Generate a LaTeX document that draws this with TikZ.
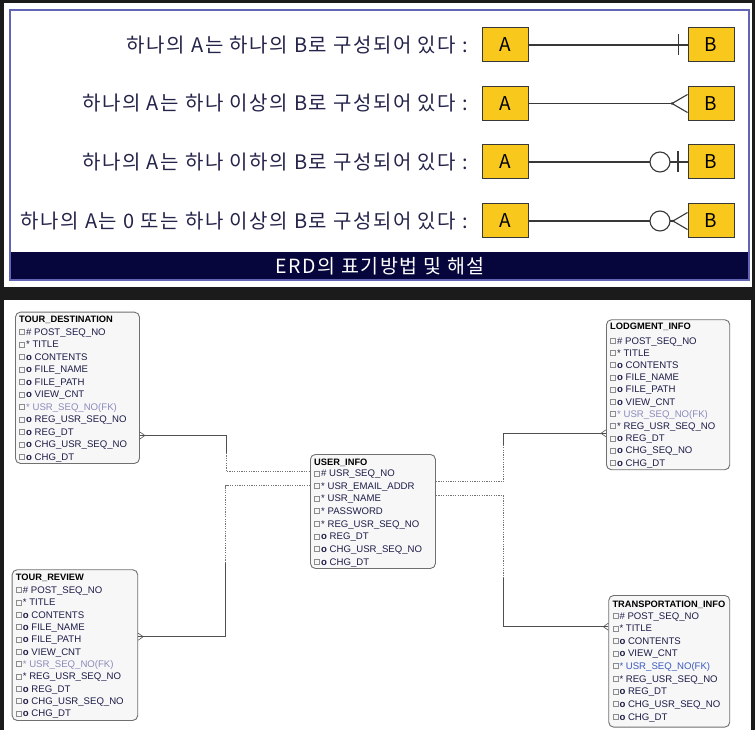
\documentclass[tikz,border=0pt]{standalone}
\usepackage{fontspec}
\setmainfont{Liberation Sans}
\newfontfamily\kr{Noto Sans CJK KR}
\newfontfamily\krwide[LetterSpace=8]{Noto Sans CJK KR}
\usetikzlibrary{calc}
\definecolor{bgdark}{HTML}{1B1B1B}
\definecolor{frameblue}{HTML}{6464B4}
\definecolor{navybar}{HTML}{06063C}
\definecolor{krtext}{HTML}{24244A}
\definecolor{goldbox}{HTML}{F8C81C}
\definecolor{symline}{HTML}{383838}
\definecolor{entborder}{HTML}{707070}
\definecolor{entfill}{HTML}{F7F7F7}
\definecolor{rowtext}{HTML}{1C1C48}
\definecolor{fkpale}{HTML}{8A8ABC}
\definecolor{fkblue}{HTML}{3A5AC0}
\definecolor{chkgray}{HTML}{8C8C8C}
\definecolor{conline}{HTML}{505050}
\tikzset{
  abbox/.style={draw=symline, fill=goldbox, line width=1pt, minimum width=46pt, minimum height=34pt, inner sep=0pt, font=\kr\fontsize{19}{19}\selectfont, text=black},
  krlabel/.style={anchor=east, inner sep=0pt, text=krtext, font=\krwide\fontsize{20}{20}\selectfont},
  symbol/.style={symline, line width=1.1pt},
  entity/.style={draw=entborder, fill=entfill, line width=0.9pt, rounded corners=5pt, anchor=north west, inner sep=0pt},
  enttitle/.style={anchor=base west, inner sep=0pt, text=black, font=\bfseries\fontsize{9.3}{10}\selectfont},
  rowtxt/.style={anchor=base west, inner sep=0pt, text=rowtext, font=\fontsize{9.6}{10}\selectfont},
  chk/.style={draw=chkgray, line width=0.5pt, minimum size=5pt, inner sep=0pt},
  solidcon/.style={conline, line width=0.9pt},
  dotcon/.style={conline!80, line width=0.8pt, dash pattern=on 1.2pt off 1.2pt},
  footcon/.style={conline, line width=0.6pt}
}
\newcommand\entrows[5]{%
  \foreach \t [count=\i] in {#5} {
    \pgfmathsetmacro\yy{#3+(\i-1)*#4}
    \node[chk] (#1-c\i) at (#2+7,\yy) {};
    \node[rowtxt] (#1-r\i) at (#2+11,\yy+3.4) {\t};
  }}
\begin{document}
\begin{tikzpicture}[x=1pt,y=-1pt]
\fill[bgdark] (0,0) rectangle (755,730);
\useasboundingbox (0,0) rectangle (755,730);
% ---------- top panel ----------
\fill[white] (4,3) rectangle (752,287);
\fill[navybar] (10,252) rectangle (749,280);
\draw[frameblue, line width=1.3pt] (10,10) rectangle (749,280);
\node[text=white, inner sep=0pt, font=\krwide\fontsize{19.5}{19.5}\selectfont] (title) at (380,266) {ERD의 표기방법 및 해설};

\node[krlabel] (t1) at (468,45) {하나의 A는 하나의 B로 구성되어 있다 :};
\node[krlabel] (t2) at (468,103.5) {하나의 A는 하나 이상의 B로 구성되어 있다 :};
\node[krlabel] (t3) at (468,162) {하나의 A는 하나 이하의 B로 구성되어 있다 :};
\node[krlabel] (t4) at (468,221) {하나의 A는 0 또는 하나 이상의 B로 구성되어 있다 :};

\foreach \i/\y in {1/45,2/103.5,3/162,4/221} {
  \node[abbox] (a\i) at (505,\y) {A};
  \node[abbox] (b\i) at (711,\y) {B};
}
% row 1: exactly one
\draw[symbol] (a1.east) -- (b1.west);
\draw[symbol] ($(b1.west)+(-9,-10.5)$) -- ($(b1.west)+(-9,10.5)$);
% row 2: one or more
\draw[symbol] (a2.east) -- ($(b2.west)+(-15.5,0)$);
\draw[symbol] ($(b2.west)+(0,-9)$) -- ($(b2.west)+(-15.5,0)$) -- ($(b2.west)+(0,9)$);
\fill[symline] ($(b2.west)+(-15.5,0)$) circle (1.3pt);
% row 3: zero or one
\draw[symbol] (a3.east) -- ($(b3.west)+(-37.5,0)$);
\draw[symbol] ($(b3.west)+(-27.5,0)$) circle (10pt);
\draw[symbol] ($(b3.west)+(-17.5,0)$) -- (b3.west);
\draw[symbol] ($(b3.west)+(-9.5,-10.5)$) -- ($(b3.west)+(-9.5,10.5)$);
% row 4: zero or more
\draw[symbol] (a4.east) -- ($(b4.west)+(-37.5,0)$);
\draw[symbol] ($(b4.west)+(-27.5,0)$) circle (10pt);
\draw[symbol] ($(b4.west)+(-17.5,0)$) -- ($(b4.west)+(-14.5,0)$);
\draw[symbol] ($(b4.west)+(0,-8.5)$) -- ($(b4.west)+(-14.5,0)$) -- ($(b4.west)+(0,8.5)$);
\fill[symline] ($(b4.west)+(-14.5,0)$) circle (1.3pt);

% ---------- bottom panel ----------
\fill[white] (4,300) rectangle (751,730);

% TOUR_DESTINATION
\node[entity, minimum width=124pt, minimum height=151.3pt] (td) at (15,311.7) {};
\node[enttitle] (td-t) at (19,322.4) {TOUR\_DESTINATION};
\entrows{td}{15}{332}{12.5}{\# POST\_SEQ\_NO, * TITLE, \textbf{o} CONTENTS, \textbf{o} FILE\_NAME, \textbf{o} FILE\_PATH, \textbf{o} VIEW\_CNT, {\color{fkpale}* USR\_SEQ\_NO(FK)}, \textbf{o} REG\_USR\_SEQ\_NO, \textbf{o} REG\_DT, \textbf{o} CHG\_USR\_SEQ\_NO, \textbf{o} CHG\_DT}

% USER_INFO
\node[entity, minimum width=125pt, minimum height=114pt] (ui) at (310,454) {};
\node[enttitle] (ui-t) at (314,465.1) {USER\_INFO};
\entrows{ui}{310}{473.3}{12.63}{\# USR\_SEQ\_NO, * USR\_EMAIL\_ADDR, * USR\_NAME, * PASSWORD, * REG\_USR\_SEQ\_NO, \textbf{o} REG\_DT, \textbf{o} CHG\_USR\_SEQ\_NO, \textbf{o} CHG\_DT}

% LODGMENT_INFO
\node[entity, minimum width=123.3pt, minimum height=150pt] (li) at (606,319.3) {};
\node[enttitle] (li-t) at (610,329.4) {LODGMENT\_INFO};
\entrows{li}{606}{340.7}{12.2}{\# POST\_SEQ\_NO, * TITLE, \textbf{o} CONTENTS, \textbf{o} FILE\_NAME, \textbf{o} FILE\_PATH, \textbf{o} VIEW\_CNT, {\color{fkpale}* USR\_SEQ\_NO(FK)}, * REG\_USR\_SEQ\_NO, \textbf{o} REG\_DT, \textbf{o} CHG\_SEQ\_NO, \textbf{o} CHG\_DT}

% TOUR_REVIEW
\node[entity, minimum width=125.6pt, minimum height=150.7pt] (tr) at (11.7,569.3) {};
\node[enttitle] (tr-t) at (15.7,580.1) {TOUR\_REVIEW};
\entrows{tr}{11.7}{590}{12.33}{\# POST\_SEQ\_NO, * TITLE, \textbf{o} CONTENTS, \textbf{o} FILE\_NAME, \textbf{o} FILE\_PATH, \textbf{o} VIEW\_CNT, {\color{fkpale}* USR\_SEQ\_NO(FK)}, * REG\_USR\_SEQ\_NO, \textbf{o} REG\_DT, \textbf{o} CHG\_USR\_SEQ\_NO, \textbf{o} CHG\_DT}

% TRANSPORTATION_INFO
\node[entity, minimum width=121pt, minimum height=131.7pt] (ti) at (608.3,595) {};
\node[enttitle] (ti-t) at (612.3,607.4) {TRANSPORTATION\_INFO};
\entrows{ti}{608.3}{615.7}{12.625}{\# POST\_SEQ\_NO, * TITLE, \textbf{o} CONTENTS, \textbf{o} VIEW\_CNT, {\color{fkblue}* USR\_SEQ\_NO(FK)}, * REG\_USR\_SEQ\_NO, \textbf{o} REG\_DT, \textbf{o} CHG\_USR\_SEQ\_NO, \textbf{o} CHG\_DT}

% ---------- connectors ----------
% TOUR_DESTINATION - USER_INFO
\coordinate (j1a) at (226.5,435.5);
\coordinate (j1b) at (226.5,453);
\coordinate (j1c) at (226.5,471.7);
\draw[solidcon] (td.east |- j1a) -- (j1a) -- (j1b);
\draw[dotcon] (j1b) -- (j1c) -- (ui.west |- j1c);
\draw[footcon] ($(td.east |- j1a)+(0,-3.5)$) -- ($(td.east |- j1a)+(5,0)$) -- ($(td.east |- j1a)+(0,3.5)$);
% TOUR_REVIEW - USER_INFO
\coordinate (j2a) at (225.7,636.7);
\coordinate (j2b) at (225.7,563);
\coordinate (j2c) at (225.7,485.5);
\draw[solidcon] (tr.east |- j2a) -- (j2a) -- (j2b);
\draw[dotcon] (j2b) -- (j2c) -- (ui.west |- j2c);
\draw[footcon] ($(tr.east |- j2a)+(0,-3.5)$) -- ($(tr.east |- j2a)+(5,0)$) -- ($(tr.east |- j2a)+(0,3.5)$);
% USER_INFO - LODGMENT_INFO
\coordinate (j3a) at (503.3,481.7);
\coordinate (j3b) at (503.3,445);
\coordinate (j3c) at (503.3,433.3);
\draw[dotcon] (ui.east |- j3a) -- (j3a) -- (j3b);
\draw[solidcon] (j3b) -- (j3c) -- (li.west |- j3c);
\draw[footcon] ($(li.west |- j3c)+(0,-3.5)$) -- ($(li.west |- j3c)+(-5,0)$) -- ($(li.west |- j3c)+(0,3.5)$);
% USER_INFO - TRANSPORTATION_INFO
\coordinate (j4a) at (503.3,495.7);
\coordinate (j4b) at (503.3,578);
\coordinate (j4c) at (503.3,626.7);
\draw[dotcon] (ui.east |- j4a) -- (j4a) -- (j4b);
\draw[solidcon] (j4b) -- (j4c) -- (ti.west |- j4c);
\draw[footcon] ($(ti.west |- j4c)+(0,-3.5)$) -- ($(ti.west |- j4c)+(-5,0)$) -- ($(ti.west |- j4c)+(0,3.5)$);
\end{tikzpicture}
\end{document}
